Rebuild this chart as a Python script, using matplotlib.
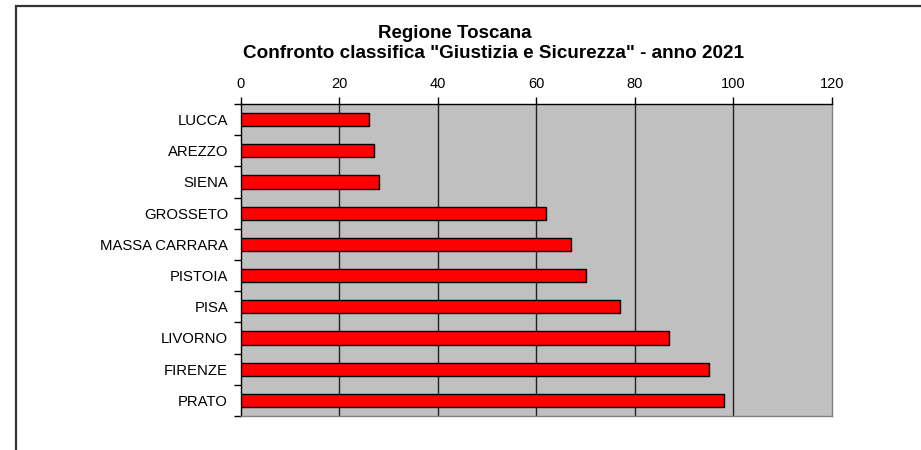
import matplotlib
matplotlib.use("Agg")
import matplotlib.pyplot as plt
from matplotlib.patches import Rectangle

province = ["LUCCA", "AREZZO", "SIENA", "GROSSETO", "MASSA CARRARA",
            "PISTOIA", "PISA", "LIVORNO", "FIRENZE", "PRATO"]
punteggi = [26, 27, 28, 62, 67, 70, 77, 87, 95, 98]
x_ticks = [0, 20, 40, 60, 80, 100, 120]

plt.rcParams["font.family"] = ["Liberation Sans", "DejaVu Sans"]

W, H = 921, 450
fig = plt.figure(figsize=(W / 100, H / 100), dpi=100)

# cornice esterna (bordo del grafico Excel)
fig.patches.append(Rectangle((16 / W, -0.1), 1.2, 1 - 6 / H + 0.1,
                             transform=fig.transFigure, fill=False,
                             ec="#333333", lw=1.6))

ax = fig.add_axes([240.5 / W, 1 - 416 / H, (832 - 240.5) / W, (416 - 104) / H])
ax.set_facecolor("#C0C0C0")

y = range(len(province))
ax.barh(list(y), punteggi, height=0.42, color="#FF0000",
        edgecolor="black", linewidth=1, zorder=3)

ax.set_xlim(0, 120)
ax.set_ylim(len(province) - 0.5, -0.5)
ax.xaxis.tick_top()
ax.set_xticks(x_ticks)
ax.set_xticklabels([str(t) for t in x_ticks], fontsize=10.5)
ax.tick_params(axis="x", length=5, width=1, pad=4, color="black")
ax.set_yticks(list(y))
ax.set_yticklabels(province, fontsize=10.7)
ax.tick_params(axis="y", length=0, pad=9)
# tacche tra le categorie
ax.set_yticks([i - 0.5 for i in range(len(province) + 1)], minor=True)
ax.tick_params(axis="y", which="minor", length=5, width=1, color="black")

for xv in x_ticks[1:-1]:
    ax.axvline(xv, color="#222222", lw=1, zorder=1)

for s in ["top", "left"]:
    ax.spines[s].set_color("black")
    ax.spines[s].set_linewidth(1)
for s in ["right", "bottom"]:
    ax.spines[s].set_color("#808080")
    ax.spines[s].set_linewidth(1)

fig.text(455 / W, 1 - 33 / H, "Regione Toscana", ha="center", va="center",
         fontsize=13.5, fontweight="bold")
fig.text(493 / W, 1 - 53 / H,
         'Confronto classifica "Giustizia e Sicurezza" - anno 2021',
         ha="center", va="center", fontsize=13.6, fontweight="bold")

fig.savefig("out.png", dpi=100)
